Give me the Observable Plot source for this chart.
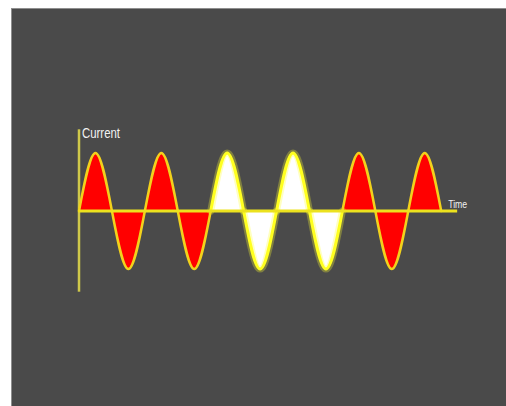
<!DOCTYPE html>
<html>
<head>
<meta charset="utf-8">
<script src="https://cdn.jsdelivr.net/npm/d3@7"></script>
<script src="https://cdn.jsdelivr.net/npm/@observablehq/plot@0.6"></script>
<style>
  html, body { margin: 0; padding: 0; background: #ffffff; }
  #wrap { position: relative; width: 506px; height: 406px; overflow: hidden; }
  #bg { position: absolute; left: 11px; top: 8px; width: 495px; height: 398px; box-sizing: border-box;
        background: #4a4a4a; border-left: 1px solid #8e8e8e; border-top: 1px solid #8e8e8e; }
  #chart { position: absolute; left: 0; top: 0; }
</style>
</head>
<body>
<div id="wrap"><div id="bg"></div><div id="chart"></div></div>
<script>
// Half-cycles of the alternating current (in half-period units along Time)
const halfCycles = [0, 1, 2, 3, 4, 5, 6, 7, 8, 9, 10];
const peakValues = [1, -1, 1, -1, 1, -1, 1, -1, 1, -1, 1];
const lobeColors = ["red", "red", "red", "red", "white", "white", "white", "white", "red", "red", "red"];
// Axes extents
const timeAxisEnd = 11.5;
const currentAxisExtent = [-1.4, 1.4];
const labels = ["Current", "Time"];

// Build the wave table: each half-cycle = zero, peak, zero
const wave = [];
halfCycles.forEach((h, i) => {
  [[h, 0], [h + 0.5, peakValues[i]], [h + 1, 0]].forEach(([t, c]) =>
    wave.push({t, c, lobe: h, color: lobeColors[i]}));
});
const whiteWave = wave.filter(d => d.color === "white");
const redWave = wave.filter(d => d.color === "red");

const fillMap = {red: "#ff0000", white: "#ffffff"};
const labelFont = "Liberation Sans, Arial, sans-serif";

const chart = Plot.plot({
  width: 506,
  height: 406,
  margin: 0,
  style: {background: "transparent", overflow: "visible"},
  x: {domain: [0, 11], range: [78.5, 440.7], axis: null},
  y: {domain: [-1, 1], range: [268.5, 152.5], axis: null},
  marks: [
    // vertical (Current) axis
    Plot.ruleX([0], {y1: currentAxisExtent[0], y2: currentAxisExtent[1], stroke: "#cfc84a", strokeWidth: 2.5}),
    // lobes
    Plot.areaY(wave, {x: "t", y: "c", z: "lobe", fill: d => fillMap[d.color], curve: "natural"}),
    // glow around white lobes
    Plot.lineY(whiteWave, {x: "t", y: "c", z: "lobe", stroke: "#ffff30", strokeWidth: 7, strokeOpacity: 0.3, curve: "natural"}),
    Plot.lineY(whiteWave, {x: "t", y: "c", z: "lobe", stroke: "#ffff20", strokeWidth: 3, curve: "natural"}),
    Plot.lineY(redWave, {x: "t", y: "c", z: "lobe", stroke: "#f2d21c", strokeWidth: 2.5, curve: "natural"}),
    // horizontal (Time) axis
    Plot.ruleY([0], {x1: 0, x2: timeAxisEnd, stroke: "#ece21e", strokeWidth: 3}),
    // labels
    Plot.text([labels[0]], {x: 0, y: currentAxisExtent[1], text: d => d, textAnchor: "start", lineAnchor: "top",
      dx: 3, dy: -2, fill: "#f2f2f2", fontSize: 15, fontFamily: labelFont, className: "lbl-current"}),
    Plot.text([labels[1]], {x: timeAxisEnd, y: 0, text: d => d, textAnchor: "middle", lineAnchor: "bottom",
      dy: -3, fill: "#f2f2f2", fontSize: 11, fontFamily: labelFont, className: "lbl-time"})
  ]
});
// condense the labels like the reference's narrow typeface
chart.querySelectorAll(".lbl-current text").forEach(t => { t.setAttribute("textLength", 38); t.setAttribute("lengthAdjust", "spacingAndGlyphs"); });
chart.querySelectorAll(".lbl-time text").forEach(t => { t.setAttribute("textLength", 19); t.setAttribute("lengthAdjust", "spacingAndGlyphs"); });
document.getElementById("chart").appendChild(chart);
</script>
</body>
</html>
